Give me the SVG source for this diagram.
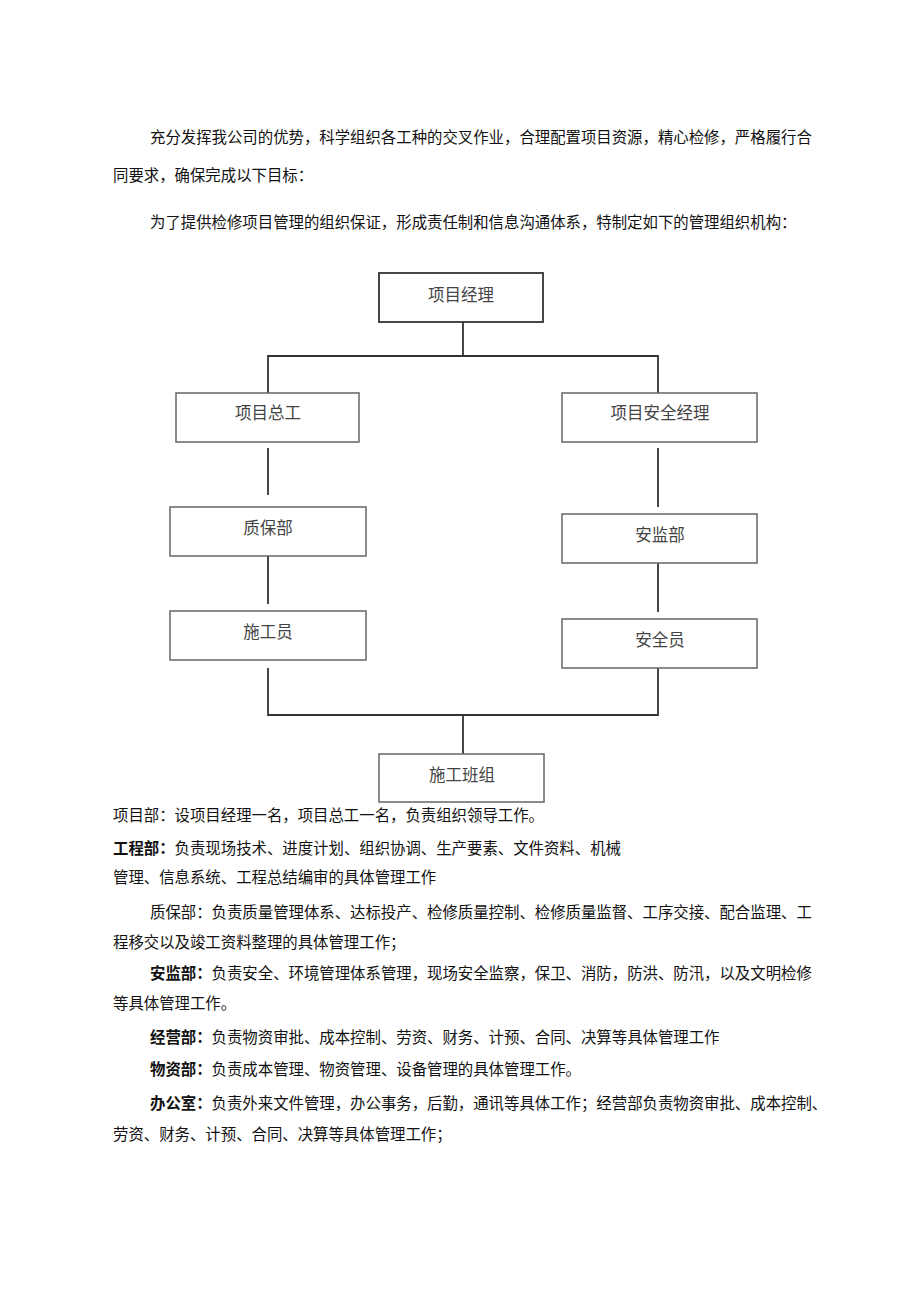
<svg xmlns="http://www.w3.org/2000/svg" width="920" height="1301" viewBox="0 0 920 1301">
<style>
.t{font-family:"Liberation Serif","Noto Sans CJK SC",serif;font-size:15.4px;fill:#111}
.b{font-weight:bold}
.box{fill:#fff;stroke:#666;stroke-width:1.5}
.box2{fill:#fff;stroke:#333;stroke-width:1.8}
.lbl{font-family:"Liberation Serif","Noto Sans CJK SC",serif;font-size:16.5px;fill:#444;text-anchor:middle;dominant-baseline:central}
.ln{fill:none;stroke:#333;stroke-width:1.8}
</style>
<rect width="920" height="1301" fill="#fff"/>
<g id="intro">
<text class="t" x="150" y="143">充分发挥我公司的优势，科学组织各工种的交叉作业，合理配置项目资源，精心检修，严格履行合</text>
<text class="t" x="113" y="181">同要求，确保完成以下目标：</text>
<text class="t" x="150" y="228">为了提供检修项目管理的组织保证，形成责任制和信息沟通体系，特制定如下的管理组织机构：</text>
</g>
<g id="connectors">
<path class="ln" d="M463 322V356M268 393V356H658V393"/>
<path class="ln" d="M268 448V495M658 448V507"/>
<path class="ln" d="M268 556V604M658 563V612"/>
<path class="ln" d="M268 668V715H658V668M463 715V754"/>
</g>
<g id="n-pm"><rect class="box2" x="379" y="273" width="164" height="49"/><text class="lbl" x="461" y="295">项目经理</text></g>
<g id="n-chief"><rect class="box" x="176" y="393" width="183" height="49"/><text class="lbl" x="268" y="413">项目总工</text></g>
<g id="n-safemgr"><rect class="box" x="562" y="393" width="195" height="49"/><text class="lbl" x="660" y="413">项目安全经理</text></g>
<g id="n-qa"><rect class="box" x="170" y="507" width="196" height="49"/><text class="lbl" x="268" y="528">质保部</text></g>
<g id="n-worker"><rect class="box" x="170" y="611" width="196" height="49"/><text class="lbl" x="268" y="632">施工员</text></g>
<g id="n-safedept"><rect class="box" x="562" y="514" width="195" height="49"/><text class="lbl" x="660" y="535">安监部</text></g>
<g id="n-safety"><rect class="box" x="562" y="619" width="195" height="49"/><text class="lbl" x="660" y="640">安全员</text></g>
<g id="n-team"><rect class="box" x="379" y="754" width="165" height="48"/><text class="lbl" x="462" y="775">施工班组</text></g>
<g id="desc">
<text class="t" x="113" y="821">项目部：设项目经理一名，项目总工一名，负责组织领导工作。</text>
<text class="t" x="113" y="854"><tspan class="b">工程部：</tspan>负责现场技术、进度计划、组织协调、生产要素、文件资料、机械</text>
<text class="t" x="113" y="883">管理、信息系统、工程总结编审的具体管理工作</text>
<text class="t" x="150" y="918">质保部：负责质量管理体系、达标投产、检修质量控制、检修质量监督、工序交接、配合监理、工</text>
<text class="t" x="113" y="948">程移交以及竣工资料整理的具体管理工作；</text>
<text class="t" x="150" y="979"><tspan class="b">安监部：</tspan>负责安全、环境管理体系管理，现场安全监察，保卫、消防，防洪、防汛，以及文明检修</text>
<text class="t" x="113" y="1009">等具体管理工作。</text>
<text class="t" x="150" y="1043"><tspan class="b">经营部：</tspan>负责物资审批、成本控制、劳资、财务、计预、合同、决算等具体管理工作</text>
<text class="t" x="150" y="1075"><tspan class="b">物资部：</tspan>负责成本管理、物资管理、设备管理的具体管理工作。</text>
<text class="t" x="150" y="1109"><tspan class="b">办公室：</tspan>负责外来文件管理，办公事务，后勤，通讯等具体工作；经营部负责物资审批、成本控制、</text>
<text class="t" x="113" y="1140">劳资、财务、计预、合同、决算等具体管理工作；</text>
</g>
</svg>
